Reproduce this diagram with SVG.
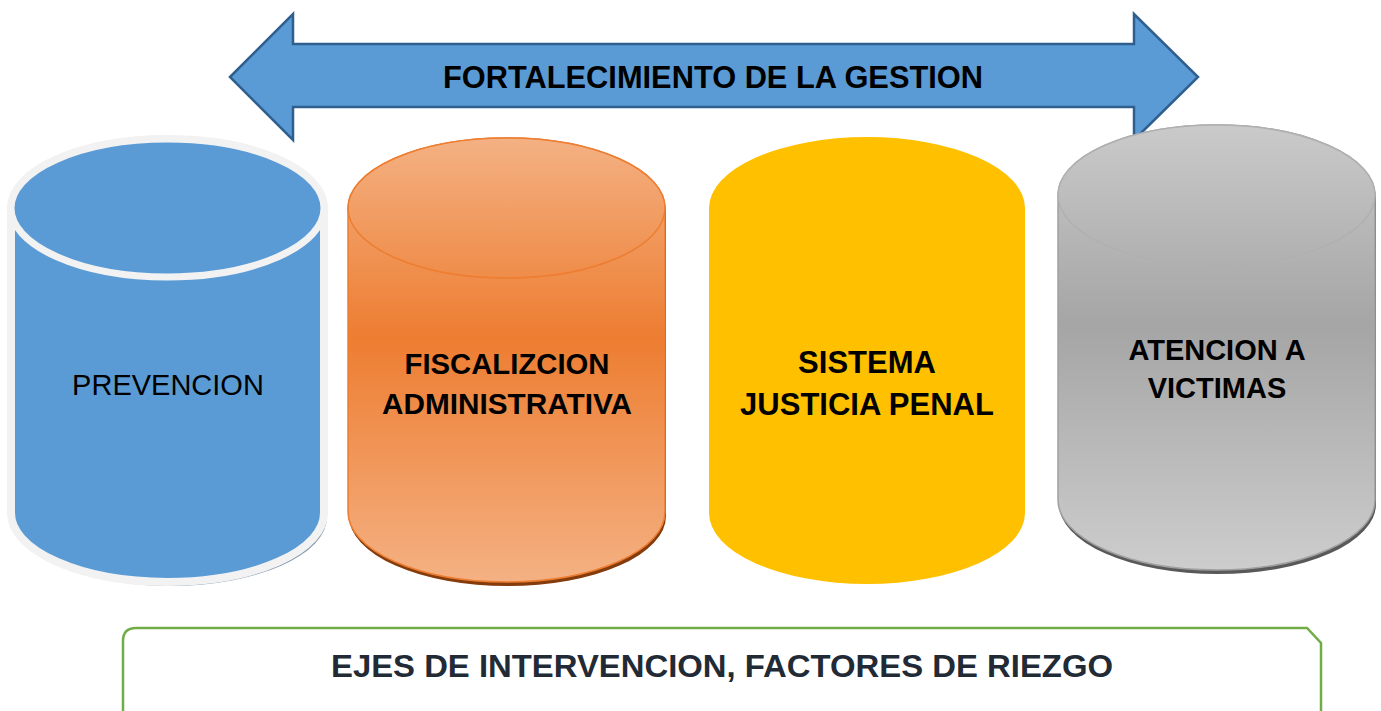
<svg xmlns="http://www.w3.org/2000/svg" width="1381" height="711" viewBox="0 0 1381 711">
<style>
.lbl{font-family:"Liberation Sans",Arial,sans-serif;fill:#000;text-anchor:middle}
.b{font-weight:bold}
</style>
<defs>
<linearGradient id="gOr" gradientUnits="userSpaceOnUse" x1="0" y1="138" x2="0" y2="582">
<stop offset="0" stop-color="#f4b183"/><stop offset="0.45" stop-color="#ed7d31"/><stop offset="1" stop-color="#f4b183"/>
</linearGradient>
<linearGradient id="gGr" gradientUnits="userSpaceOnUse" x1="0" y1="125" x2="0" y2="570">
<stop offset="0" stop-color="#cacaca"/><stop offset="0.45" stop-color="#a5a5a5"/><stop offset="1" stop-color="#cdcdcd"/>
</linearGradient>
</defs>

<g id="fortalecimiento">
<polygon points="230,77 293,14 293,44 1134,44 1134,14 1198,77 1134,140 1134,107 293,107 293,140" fill="#5b9bd5" stroke="#2f5f8f" stroke-width="2.5" stroke-linejoin="miter"/>
<text class="lbl b" x="713" y="88" font-size="32" textLength="540" lengthAdjust="spacingAndGlyphs">FORTALECIMIENTO DE LA GESTION</text>
</g>

<g id="prevencion">
<path d="M11,208 A156.5,69 0 0 1 324,208 L324,513 A156.5,69 0 0 1 11,513 Z" fill="#8497b0" transform="translate(3,4)"/>
<path d="M11,208 A156.5,69 0 0 1 324,208 L324,513 A156.5,69 0 0 1 11,513 Z" fill="#5b9bd5" stroke="#f2f2f2" stroke-width="8"/>
<ellipse cx="167.5" cy="208" rx="156.5" ry="69" fill="#5b9bd5" stroke="#f2f2f2" stroke-width="7"/>
<text class="lbl" x="168" y="395" font-size="29">PREVENCION</text>
</g>

<g id="fiscalizacion">
<path d="M348,208 A158.5,70 0 0 1 665,208 L665,512 A158.5,70 0 0 1 348,512 Z" fill="#843c0c" transform="translate(1,4)"/>
<path d="M348,208 A158.5,70 0 0 1 665,208 L665,512 A158.5,70 0 0 1 348,512 Z" fill="url(#gOr)" stroke="#ed7d31" stroke-width="1.5"/>
<ellipse cx="506.5" cy="208" rx="158.5" ry="70" fill="url(#gOr)" stroke="#ed7d31" stroke-width="1.5"/>
<text class="lbl b" x="507" y="374" font-size="29" textLength="205" lengthAdjust="spacingAndGlyphs">FISCALIZCION</text>
<text class="lbl b" x="507" y="414" font-size="29" textLength="250" lengthAdjust="spacingAndGlyphs">ADMINISTRATIVA</text>
</g>

<g id="sistema">
<path d="M709,208 A158,71 0 0 1 1025,208 L1025,513 A158,71 0 0 1 709,513 Z" fill="#ffc000"/>
<text class="lbl b" x="867" y="373" font-size="31">SISTEMA</text>
<text class="lbl b" x="867" y="415" font-size="31">JUSTICIA PENAL</text>
</g>

<g id="atencion">
<path d="M1058,195 A158.5,70 0 0 1 1375,195 L1375,500 A158.5,70 0 0 1 1058,500 Z" fill="#595959" transform="translate(1,4)"/>
<path d="M1058,195 A158.5,70 0 0 1 1375,195 L1375,500 A158.5,70 0 0 1 1058,500 Z" fill="url(#gGr)" stroke="#a0a0a0" stroke-width="1.5"/>
<ellipse cx="1216.5" cy="195" rx="158.5" ry="70" fill="url(#gGr)" stroke="#b0b0b0" stroke-width="1.5"/>
<text class="lbl b" x="1217" y="360" font-size="29">ATENCION A</text>
<text class="lbl b" x="1217" y="398" font-size="29">VICTIMAS</text>
</g>

<g id="ejes">
<path d="M123,720 L123,641 Q123,628 136,628 L1307,628 L1321,643 L1321,720" fill="#ffffff" stroke="#70ad47" stroke-width="2.5"/>
<text x="722" y="677" font-family="'Liberation Sans',Arial,sans-serif" font-weight="bold" font-size="32" fill="#222a35" text-anchor="middle" textLength="782" lengthAdjust="spacingAndGlyphs">EJES DE INTERVENCION, FACTORES DE RIEZGO</text>
</g>

<g id="connectors"/>
</svg>
